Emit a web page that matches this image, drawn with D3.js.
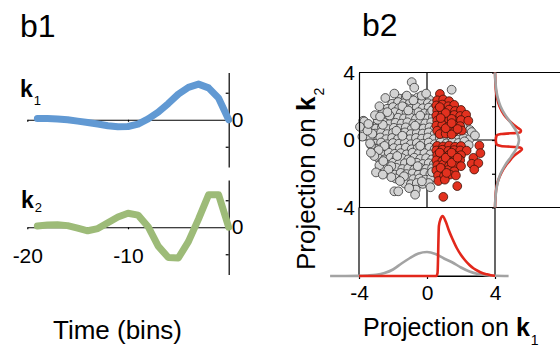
<!DOCTYPE html>
<html>
<head>
<meta charset="utf-8">
<script src="https://cdn.jsdelivr.net/npm/d3@7"></script>
<style>
  body { margin: 0; background: #fff; }
  svg { display: block; font-family: "Liberation Sans", Arial, sans-serif; }
</style>
</head>
<body>
<svg id="chart" width="560" height="347"></svg>
<script>
// ---- b1: temporal filters k1 and k2 ----
const timeBins = [-19,-18,-17,-16,-15,-14,-13,-12,-11,-10,-9,-8,-7,-6,-5,-4,-3,-2,-1,0];
const k1Values = [0.05,0.05,0.03,0.0,-0.05,-0.1,-0.16,-0.22,-0.26,-0.25,-0.16,0.03,0.28,0.6,0.95,1.2,1.32,1.18,0.8,0.0];
const k2Values = [0.05,0.08,0.09,0.06,-0.03,-0.13,-0.05,0.17,0.38,0.52,0.45,0.02,-0.7,-1.12,-1.14,-0.53,0.3,1.2,1.2,0.0];
const timeTicks = [-20,-10,0];
const filterTicks = [-1,0,1];

// ---- b2: stimulus projections (gray: all stimuli, red: spike-triggered) ----
const grayPoints = [
  [-1.6,2.45],[-1.25,2.55],[-0.9,2.42],[-0.55,2.52],[-0.2,2.47],[0.15,2.38],
  [-2.05,2.15],[-1.7,2.25],[-1.35,2.18],[-1.0,2.22],[-0.65,2.15],[-0.3,2.25],[0.05,2.18],[0.35,2.12],
  [-2.35,1.85],[-2.0,1.95],[-1.65,1.88],[-1.3,1.92],[-0.95,1.85],[-0.6,1.95],[-0.25,1.88],[0.1,1.92],[0.4,1.85],
  [-2.6,1.62],[-2.25,1.55],[-1.9,1.65],[-1.55,1.58],[-1.2,1.62],[-0.85,1.55],[-0.5,1.65],[-0.15,1.58],[0.2,1.62],[0.45,1.55],
  [-2.75,1.28],[-2.4,1.35],[-2.05,1.25],[-1.7,1.32],[-1.35,1.28],[-1.0,1.35],[-0.65,1.25],[-0.3,1.32],[0.05,1.28],[0.35,1.35],
  [-2.9,0.98],[-2.55,1.05],[-2.2,0.95],[-1.85,1.02],[-1.5,0.97],[-1.15,1.05],[-0.8,0.95],[-0.45,1.02],[-0.1,0.98],[0.25,1.05],
  [-3.0,0.68],[-2.65,0.75],[-2.3,0.65],[-1.95,0.72],[-1.6,0.68],[-1.25,0.75],[-0.9,0.65],[-0.55,0.72],[-0.2,0.68],[0.15,0.75],[0.45,0.65],
  [-3.05,0.38],[-2.7,0.45],[-2.35,0.35],[-2.0,0.42],[-1.65,0.38],[-1.3,0.45],[-0.95,0.35],[-0.6,0.42],[-0.25,0.38],[0.1,0.45],[0.45,0.35],
  [-3.1,0.08],[-2.75,0.15],[-2.4,0.05],[-2.05,0.12],[-1.7,0.08],[-1.35,0.15],[-1.0,0.05],[-0.65,0.12],[-0.3,0.08],[0.05,0.15],[0.4,0.05],
  [0.75,0.12],[1.1,0.05],[1.45,0.1],[1.8,0.02],[2.15,0.12],[2.5,0.05],
  [-3.05,-0.22],[-2.7,-0.15],[-2.35,-0.25],[-2.0,-0.18],[-1.65,-0.22],[-1.3,-0.15],[-0.95,-0.25],[-0.6,-0.18],[-0.25,-0.22],[0.1,-0.15],[0.45,-0.25],
  [0.8,-0.12],[1.15,-0.2],[1.5,-0.1],[1.85,-0.18],[2.2,-0.08],
  [-3.0,-0.52],[-2.65,-0.45],[-2.3,-0.55],[-1.95,-0.48],[-1.6,-0.52],[-1.25,-0.45],[-0.9,-0.55],[-0.55,-0.48],[-0.2,-0.52],[0.15,-0.45],[0.45,-0.55],
  [-2.95,-0.78],[-2.6,-0.85],[-2.25,-0.75],[-1.9,-0.82],[-1.55,-0.78],[-1.2,-0.85],[-0.85,-0.75],[-0.5,-0.82],[-0.15,-0.78],[0.2,-0.85],
  [-2.85,-1.08],[-2.5,-1.15],[-2.15,-1.05],[-1.8,-1.12],[-1.45,-1.08],[-1.1,-1.15],[-0.75,-1.05],[-0.4,-1.12],[-0.05,-1.08],[0.3,-1.15],
  [-2.7,-1.38],[-2.35,-1.45],[-2.0,-1.35],[-1.65,-1.42],[-1.3,-1.38],[-0.95,-1.45],[-0.6,-1.35],[-0.25,-1.42],[0.1,-1.38],[0.4,-1.45],
  [-2.5,-1.68],[-2.15,-1.75],[-1.8,-1.65],[-1.45,-1.72],[-1.1,-1.68],[-0.75,-1.75],[-0.4,-1.65],[-0.05,-1.72],[0.3,-1.68],
  [-2.25,-1.98],[-1.9,-2.05],[-1.55,-1.95],[-1.2,-2.02],[-0.85,-1.98],[-0.5,-2.05],[-0.15,-1.95],[0.2,-2.02],
  [-1.85,-2.28],[-1.5,-2.35],[-1.15,-2.25],[-0.8,-2.32],[-0.45,-2.28],[-0.1,-2.35],[0.25,-2.25],
  [-1.3,-2.58],[-0.95,-2.62],[-0.6,-2.55],[-0.25,-2.6],[0.1,-2.55],
  [-1.45,2.0],[-0.8,2.35],[-2.2,1.45],[-1.1,1.75],[-0.4,1.45],[-2.6,0.9],[-1.8,0.55],[-0.7,0.85],[-1.45,0.25],
  [-2.5,-0.35],[-0.4,-0.35],[-1.75,-0.95],[-0.95,-1.25],[-2.1,-1.55],[-0.55,-1.55],[-1.35,-2.15],[-0.3,-2.45],
  [0.3,-1.9],[0.3,1.75],[-2.9,1.2],[-2.85,-0.6],[-3.1,-0.95],[-2.8,-1.5],
  [-0.9,3.43],[-0.75,3.1],[-1.92,2.75],[-2.45,2.49],[-1.19,2.63],[-0.31,2.63],[-2.33,1.65],[1.45,2.98],
  [-3.06,1.47],[-2.76,1.39],[-3.75,1.14],[-3.69,1.1],[-3.94,0.78],[-3.35,0.2],[-3.8,0.2],[-3.22,0.37],[-3.5,0.55],
  [-3.29,-0.31],[-3.35,-0.2],[-2.57,-1.25],[-2.27,-1.75],[-3.0,-1.92],[-1.59,-2.43],
  [-1.92,-3.04],[-1.69,-3.04],[-0.66,-2.94],[-0.7,-3.24],
  [-2.1,-2.2],[-2.6,-2.05],[-3.3,-0.75],[-3.45,0.95],[-2.8,2.0],[-0.05,2.75],[0.2,-2.8],[-1.05,-2.85],
  [2.1,0.82],[2.53,0.59],[2.63,0.47],[2.82,0.27],[2.45,-0.3]
];
const redPoints = [
  [0.76,2.73],
  [0.6,2.35],[0.95,2.4],[1.3,2.3],
  [0.55,2.05],[0.9,2.1],[1.25,2.0],[1.6,2.08],
  [0.6,1.75],[0.95,1.7],[1.3,1.8],[1.65,1.72],[2.0,1.78],
  [0.55,1.45],[0.9,1.5],[1.25,1.4],[1.6,1.48],[1.95,1.42],[2.3,1.5],
  [0.6,1.15],[0.95,1.1],[1.3,1.2],[1.65,1.12],[2.0,1.18],[2.43,1.14],
  [0.55,0.85],[0.9,0.9],[1.25,0.8],[1.6,0.88],[1.95,0.82],
  [0.6,0.55],[0.95,0.5],[1.3,0.58],[1.65,0.52],[2.05,0.56],
  [0.75,0.35],[1.1,0.38],[1.45,0.33],
  [0.75,1.95],[1.1,1.6],[1.45,1.25],[0.8,1.3],[1.1,0.7],[1.45,1.0],[1.8,0.65],
  [0.6,-0.35],[0.95,-0.38],[1.3,-0.33],[1.65,-0.4],[2.0,-0.36],
  [0.55,-0.62],[0.9,-0.58],[1.25,-0.65],[1.6,-0.6],[1.95,-0.62],[2.33,-0.63],[3.08,-0.33],
  [0.6,-0.9],[0.95,-0.95],[1.3,-0.88],[1.65,-0.92],[2.0,-0.9],[2.73,-1.06],[3.14,-0.78],
  [0.55,-1.2],[0.9,-1.25],[1.25,-1.18],[1.6,-1.22],[1.95,-1.2],[2.63,-1.41],[3.02,-1.37],
  [0.6,-1.5],[0.95,-1.45],[1.3,-1.52],[1.65,-1.48],[2.0,-1.55],
  [0.55,-1.8],[0.9,-1.82],[1.25,-1.78],[1.6,-1.85],[2.78,-1.75],
  [0.65,-2.1],[1.0,-2.15],[1.35,-2.05],[1.7,-2.1],
  [0.67,-2.43],[1.05,-2.35],
  [1.78,-2.73],[0.96,-3.37],
  [0.75,-0.75],[1.1,-1.05],[1.45,-1.35],[0.8,-1.65],[1.15,-1.95],[1.45,-0.75],[1.8,-1.05]
];
const projTicks = [-4,0,4];
const marginTicks = [-4,-2,0,2,4];

// marginal densities along k1 (bottom) and k2 (right)
const k1GrayX = [-5.7,-4,-3.5,-3,-2.5,-2,-1.5,-1,-0.5,0,0.5,1,1.5,2,2.5,3,3.5,4,4.8];
const k1GrayD = [0,0.001,0.005,0.012,0.03,0.065,0.125,0.18,0.225,0.24,0.22,0.175,0.135,0.085,0.045,0.02,0.008,0.002,0];
const k1RedX = [-4,0.55,0.62,0.7,0.8,0.92,1.1,1.3,1.5,1.75,2.0,2.25,2.5,2.75,3.0,3.25,3.5,3.75,4];
const k1RedD = [0,0,0.03,0.5,0.57,0.6,0.545,0.45,0.37,0.28,0.21,0.155,0.11,0.075,0.05,0.03,0.018,0.008,0.003];
const k2GrayY = [4,3.5,3,2.5,2,1.5,1,0.5,0,-0.5,-1,-1.5,-2,-2.5,-3,-3.5,-4];
const k2GrayD = [0,0.004,0.012,0.028,0.055,0.1,0.16,0.215,0.24,0.215,0.16,0.1,0.055,0.028,0.012,0.004,0];
const k2RedY = [4,3.5,3,2.5,2,1.5,1.25,1,0.75,0.55,0.45,0.35,0.25,0,-0.25,-0.35,-0.45,-0.55,-0.75,-1,-1.25,-1.5,-2,-2.5,-3,-3.5,-4];
const k2RedD = [0,0.003,0.008,0.02,0.045,0.09,0.125,0.17,0.22,0.26,0.25,0.06,0.015,0.008,0.015,0.06,0.255,0.27,0.23,0.18,0.145,0.11,0.06,0.026,0.01,0.004,0];

const svg = d3.select("#chart");
const FONT_TICK = 21;
const plainNumber = d => String(d);   // hyphen-minus, as typeset in the figure

// ---------- panel b1 ----------
const xT = d3.scaleLinear().domain([-20, 0]).range([27.3, 228.7]);
const yK1 = d3.scaleLinear().domain([-1.75, 1.75]).range([167, 72.5]);
const yK2 = d3.scaleLinear().domain([-1.75, 1.75]).range([274.5, 180]);

function filterPanel(yScale, values, color, showTimeLabels) {
  const g = svg.append("g");
  // horizontal time axis at zero
  const ax = d3.axisBottom(xT).tickValues(timeTicks).tickSize(2).tickSizeOuter(0)
    .tickPadding(19).tickFormat(d => (showTimeLabels && d !== 0) ? plainNumber(d) : "");
  g.append("g").attr("transform", `translate(0,${yScale(0)})`).call(ax);
  // vertical amplitude axis at t = 0
  const ay = d3.axisRight(yScale).tickValues(filterTicks).tickSize(-3).tickSizeOuter(0)
    .tickPadding(3).tickFormat(d => d === 0 ? "0" : "");
  g.append("g").attr("transform", `translate(${xT(0)},0)`).call(ay);
  g.selectAll(".domain, .tick line").attr("stroke", "#000").attr("stroke-width", 1.2);
  g.selectAll(".tick text").attr("font-size", FONT_TICK).attr("fill", "#000")
    .attr("font-family", "Liberation Sans, Arial, sans-serif");
  const line = d3.line().x((d, i) => xT(timeBins[i])).y(d => yScale(d));
  g.append("path").datum(values).attr("d", line).attr("fill", "none")
    .attr("stroke", color).attr("stroke-width", 7)
    .attr("stroke-linejoin", "round").attr("stroke-linecap", "round");
  return g;
}
filterPanel(yK1, k1Values, "#6199d3", false);
filterPanel(yK2, k2Values, "#9dbb78", true);

function kLabel(x, y, sub, size, subSize, subDy) {
  const t = svg.append("text").attr("x", x).attr("y", y).attr("font-size", size).attr("fill", "#000");
  t.append("tspan").attr("font-weight", "bold").text("k");
  t.append("tspan").attr("font-size", subSize).attr("dy", subDy).attr("dx", 1).text(sub);
  return t;
}
kLabel(20, 96.5, "1", 23, 13, 8);
kLabel(21, 208, "2", 23, 13, 4);

svg.append("text").attr("x", 20).attr("y", 36.5).attr("font-size", 32).text("b1");
svg.append("text").attr("x", 117.5).attr("y", 339).attr("font-size", 26)
  .attr("text-anchor", "middle").text("Time (bins)");

// ---------- panel b2 ----------
const sx = d3.scaleLinear().domain([-4, 4]).range([359, 495]);
const sy = d3.scaleLinear().domain([-4, 4]).range([207.5, 72.5]);
const dBottom = d3.scaleLinear().domain([0, 0.6]).range([276, 216]);
const dRight = d3.scaleLinear().domain([0, 0.6]).range([495, 555]);

const b2 = svg.append("g");
const frame = b2.append("g").attr("stroke", "#000").attr("stroke-width", 1.2);
// zero cross-hairs inside the scatter
frame.append("line").attr("x1", sx(0)).attr("x2", sx(0)).attr("y1", sy(4)).attr("y2", sy(-4));
frame.append("line").attr("x1", sx(-4)).attr("x2", sx(4)).attr("y1", sy(0)).attr("y2", sy(0));

// scatter points
b2.append("g").selectAll("circle").data(grayPoints).join("circle")
  .attr("cx", d => sx(d[0])).attr("cy", d => sy(d[1])).attr("r", 4.4)
  .attr("fill", "#d3d3d3").attr("stroke", "#333").attr("stroke-width", 0.8);
b2.append("g").selectAll("circle").data(redPoints).join("circle")
  .attr("cx", d => sx(d[0])).attr("cy", d => sy(d[1])).attr("r", 4.4)
  .attr("fill", "#e2311f").attr("stroke", "#3a1208").attr("stroke-width", 0.8);

// panel frames
const lines = [
  [sx(-4), sy(4), 560, sy(4)],
  [sx(-4), sy(-4), 560, sy(-4)],
  [sx(-4), sy(-4), sx(-4), dBottom(0)],
  [sx(4), sy(-4), sx(4), dBottom(0)],
  [sx(-4), dBottom(0), sx(4), dBottom(0)]
];
b2.append("g").selectAll("line").data(lines).join("line")
  .attr("x1", d => d[0]).attr("y1", d => d[1]).attr("x2", d => d[2]).attr("y2", d => d[3])
  .attr("stroke", "#000").attr("stroke-width", 1.2);

// scatter left axis (labels)
const ayS = d3.axisLeft(sy).tickValues(projTicks).tickSize(0).tickSizeOuter(0).tickPadding(4)
  .tickFormat(plainNumber);
b2.append("g").attr("transform", `translate(${sx(-4)},0)`).call(ayS);
// right marginal axis (ticks only)
const ayR = d3.axisLeft(sy).tickValues(marginTicks).tickSize(3).tickSizeOuter(0).tickFormat("");
b2.append("g").attr("transform", `translate(${sx(4)},0)`).call(ayR);
// bottom marginal axis
const axB = d3.axisBottom(sx).tickValues(projTicks).tickSize(3).tickSizeOuter(0).tickPadding(6)
  .tickFormat(plainNumber);
b2.append("g").attr("transform", `translate(0,${dBottom(0)})`).call(axB);
b2.selectAll(".domain, .tick line").attr("stroke", "#000").attr("stroke-width", 1.2);
b2.selectAll(".tick text").attr("font-size", FONT_TICK).attr("fill", "#000")
  .attr("font-family", "Liberation Sans, Arial, sans-serif");

// marginal densities
const bottomLine = d3.line().curve(d3.curveMonotoneX);
b2.append("path")
  .attr("d", bottomLine(k1GrayX.map((x, i) => [sx(x), dBottom(k1GrayD[i])])))
  .attr("fill", "none").attr("stroke", "#a3a3a3").attr("stroke-width", 2.6);
b2.append("path")
  .attr("d", bottomLine(k1RedX.map((x, i) => [sx(x), dBottom(k1RedD[i])])))
  .attr("fill", "none").attr("stroke", "#e2271b").attr("stroke-width", 2.6);
const rightLine = d3.line().curve(d3.curveMonotoneY);
b2.append("path")
  .attr("d", rightLine(k2RedY.map((y, i) => [dRight(k2RedD[i]), sy(y)])))
  .attr("fill", "none").attr("stroke", "#e2271b").attr("stroke-width", 2.6);
b2.append("path")
  .attr("d", rightLine(k2GrayY.map((y, i) => [dRight(k2GrayD[i]), sy(y)])))
  .attr("fill", "none").attr("stroke", "#a3a3a3").attr("stroke-width", 2.6);

svg.append("text").attr("x", 362).attr("y", 36).attr("font-size", 32).text("b2");

// axis titles
const xTitle = svg.append("text").attr("x", 363).attr("y", 336).attr("font-size", 25).attr("fill", "#000");
xTitle.append("tspan").text("Projection on ");
xTitle.append("tspan").attr("font-weight", "bold").text("k");
xTitle.append("tspan").attr("font-size", 14).attr("dy", 9).attr("dx", 1).text("1");

const yTitle = svg.append("text").attr("transform", "translate(315,270) rotate(-90)")
  .attr("font-size", 26).attr("fill", "#000");
yTitle.append("tspan").text("Projection on ");
yTitle.append("tspan").attr("font-weight", "bold").text("k");
yTitle.append("tspan").attr("font-size", 14).attr("dy", 9).attr("dx", 1).text("2");
</script>
</body>
</html>
